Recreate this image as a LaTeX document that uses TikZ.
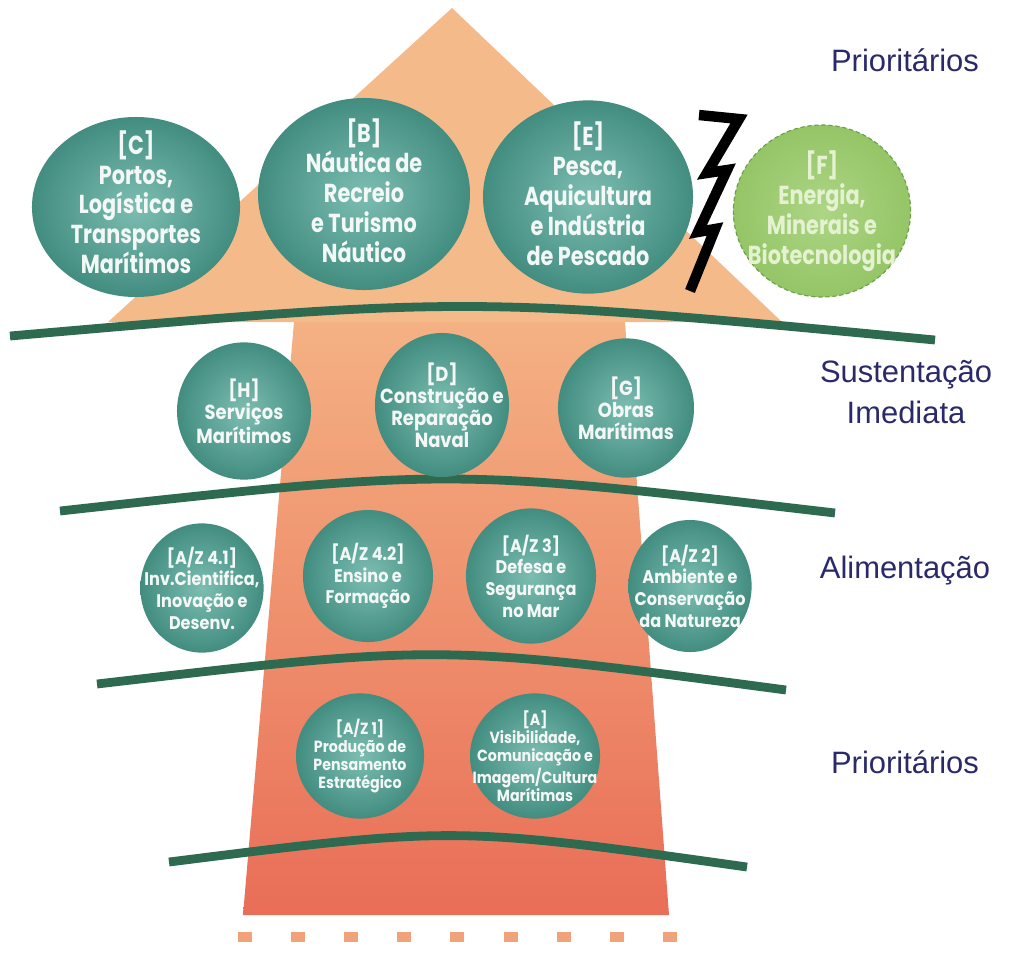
\documentclass[tikz,border=0pt]{standalone}
\usepackage{fontspec}
\usetikzlibrary{shapes.geometric}

\newfontfamily\ballfont{Poppins}[FakeStretch=0.88]
\newfontfamily\bigballfont{Poppins}[FakeStretch=0.8]
\newfontfamily\sidefont{Liberation Sans}

\definecolor{peach}{HTML}{F5BA8A}
\definecolor{shafttop}{HTML}{F4B183}
\definecolor{shaftbot}{HTML}{E96E57}
\definecolor{seaweed}{HTML}{2D6A4F}
\definecolor{ballin}{HTML}{7DBDB2}
\definecolor{ballout}{HTML}{428D80}
\definecolor{balltxt}{HTML}{F3F8F6}
\definecolor{limein}{HTML}{ADD585}
\definecolor{limeout}{HTML}{94C566}
\definecolor{limeedge}{HTML}{6E9F48}
\definecolor{limetxt}{HTML}{E4F2D2}
\definecolor{navy}{HTML}{2A2A6A}
\definecolor{dashcol}{HTML}{F2A27A}

\tikzset{
  ball/.style={ellipse, inner sep=0pt, inner color=ballin, outer color=ballout},
  limeball/.style={ellipse, inner sep=0pt, inner color=limein, outer color=limeout,
    draw=limeedge, densely dashed, line width=0.8pt},
  bigtext/.style={align=center, text=balltxt, font=\bigballfont\bfseries\fontsize{18.5}{21.3}\selectfont},
  midtext/.style={align=center, text=balltxt, font=\ballfont\bfseries\fontsize{14.5}{15.6}\selectfont},
  smalltext/.style={align=center, text=balltxt, font=\ballfont\bfseries\fontsize{13}{15.4}\selectfont},
  tinytext/.style={align=center, text=balltxt, font=\ballfont\bfseries\fontsize{11.5}{13}\selectfont},
  side/.style={anchor=base, text=navy, font=\sidefont\fontsize{22}{29}\selectfont},
  band/.style={draw=seaweed, line width=0.22cm},
  bolt/.style={draw=black, line width=0.26cm, line join=miter, miter limit=2.5}
}

\begin{document}
\begin{tikzpicture}[x=0.025cm,y=-0.025cm]
  \fill[white] (0,0) rectangle (1017,956);
  \useasboundingbox (0,0) rectangle (1017,956);

  % arrow
  \shade[top color=shafttop, bottom color=shaftbot]
    (294,322) -- (625,322) -- (669,915) -- (243,915) -- cycle;
  \fill[peach] (452,8) -- (782,322) -- (108,322) -- cycle;
  \foreach \i in {0,...,8}
    \fill[dashcol] ({238+53.1*\i},932) rectangle +(14,10);

  % bands
  \draw[band] (10,336) .. controls (470,296) .. (935,340);
  \draw[band] (60,511) .. controls (450,468) .. (835,513);
  \draw[band] (97,684) .. controls (440,644) .. (786,690);
  \draw[band] (169,862) .. controls (455,826) .. (747,867);

  % top row
  \node[ball, minimum width=5.2cm, minimum height=4.5cm] (C) at (136,207) {};
  \node[bigtext] (Ct) at ([yshift=0.12cm]C) {[C]\\Portos,\\Logística e\\Transportes\\Marítimos};
  \node[ball, minimum width=5.3cm, minimum height=4.8cm] (B) at (364,194) {};
  \node[bigtext] (Bt) at ([yshift=0.08cm]B) {[B]\\Náutica de\\Recreio\\e Turismo\\Náutico};
  \node[ball, minimum width=5.25cm, minimum height=4.83cm] (E) at (588,197) {};
  \node[bigtext] (Et) at ([yshift=0.08cm]E) {[E]\\Pesca,\\Aquicultura\\e Indústria\\de Pescado};
  \node[limeball, minimum width=4.43cm, minimum height=4.3cm] (F) at (822,211) {};
  \node[bigtext, text=limetxt] (Ft) at (F) {[F]\\Energia,\\Minerais e\\Biotecnologia};
  \draw[bolt] (699,115) -- (739,119) -- (707,173) -- (727,170) -- (698,232)
    -- (715,229) -- (690,291);

  % second row
  \node[ball, minimum width=3.35cm, minimum height=3.43cm] (H) at (244,411) {};
  \node[midtext] (Ht) at (H) {[H]\\Serviços\\Marítimos};
  \node[ball, minimum width=3.35cm, minimum height=3.6cm] (D) at (442,405) {};
  \node[midtext] (Dt) at (D) {[D]\\Construção e\\Reparação\\Naval};
  \node[ball, minimum width=3.4cm, minimum height=3.48cm] (G) at (626,408) {};
  \node[midtext] (Gt) at (G) {[G]\\Obras\\Marítimas};

  % third row
  \node[ball, minimum width=3.08cm, minimum height=3.23cm] (AZ41) at (202,588) {};
  \node[smalltext] (AZ41t) at (AZ41) {[A/Z 4.1]\\Inv.Cientifica,\\Inovação e\\Desenv.};
  \node[ball, minimum width=3.25cm, minimum height=3.3cm] (AZ42) at (368,576) {};
  \node[smalltext] (AZ42t) at (AZ42) {[A/Z 4.2]\\Ensino e\\Formação};
  \node[ball, minimum width=3.25cm, minimum height=3.38cm] (AZ3) at (531,576) {};
  \node[smalltext] (AZ3t) at (AZ3) {[A/Z 3]\\Defesa e\\Segurança\\no Mar};
  \node[ball, minimum width=3.08cm, minimum height=3.3cm] (AZ2) at (690,586) {};
  \node[smalltext] (AZ2t) at (AZ2) {[A/Z 2]\\Ambiente e\\Conservação\\da Natureza};

  % fourth row
  \node[ball, minimum width=3.2cm, minimum height=3.13cm] (AZ1) at (360,756) {};
  \node[tinytext] (AZ1t) at (AZ1) {[A/Z 1]\\Produção de\\Pensamento\\Estratégico};
  \node[ball, minimum width=3.25cm, minimum height=3.13cm] (A) at (535,756) {};
  \node[tinytext] (At) at (A) {[A]\\Visibilidade,\\Comunicação e\\Imagem/Cultura\\Marítimas};

  % side labels
  \node[side] (prio1) at (905,71) {Prioritários};
  \node[side] (sust) at (906,382) {Sustentação};
  \node[side] (imed) at (906,423) {Imediata};
  \node[side] (alim) at (905,578) {Alimentação};
  \node[side] (prio2) at (905,773) {Prioritários};
\end{tikzpicture}
\end{document}
